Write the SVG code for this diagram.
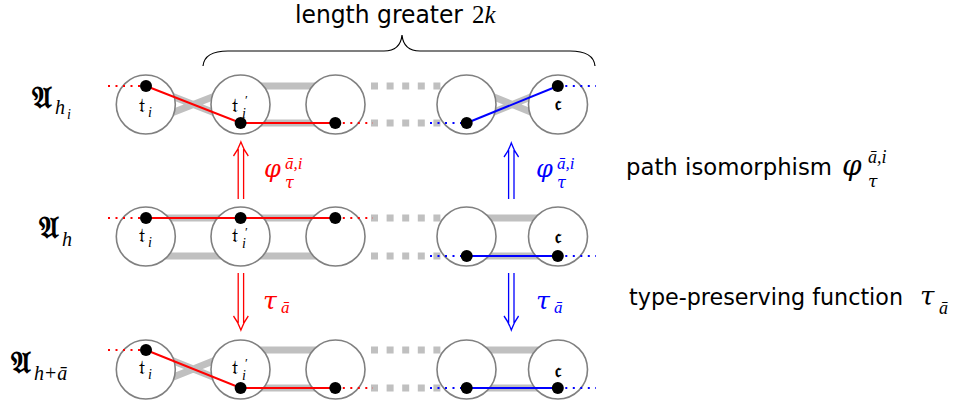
<svg xmlns="http://www.w3.org/2000/svg" width="969" height="405" viewBox="0 0 969 405">
<style>
.band{stroke:#c0c0c0;stroke-width:7;fill:none}
.dash{stroke:#c0c0c0;stroke-width:7;fill:none;stroke-dasharray:7 8.6}
.node{fill:#fff;stroke:#808080;stroke-width:1.6}
.dot{fill:#000}
.red{stroke:#ff0000;stroke-width:2;fill:none}
.blue{stroke:#0000ff;stroke-width:2;fill:none}
.rdot{stroke:#ff0000;stroke-width:2;fill:none;stroke-dasharray:2 5.5}
.bdot{stroke:#0000ff;stroke-width:2;fill:none;stroke-dasharray:2 5.5}
.arr{fill:none;stroke-width:1.3}
.txt{font-family:"DejaVu Sans","Liberation Sans",sans-serif;font-size:24px;fill:#000}
.leg{font-family:"DejaVu Sans","Liberation Sans",sans-serif;font-size:23px;fill:#000}
.frak{font-family:"DejaVu Serif","DejaVu Sans","Noto Sans",serif;fill:#000}
.math{font-family:"Liberation Serif","DejaVu Serif",serif;font-style:italic}
.greek{font-family:"DejaVu Serif","Liberation Serif",serif;font-style:italic}
.rm{font-family:"Liberation Serif","DejaVu Serif",serif;font-style:normal}
</style>

<!-- brace and title -->
<g id="brace">
<path d="M203,66 C204,56 212,51 228,51 L384,51 C396,51 401,45 402,35 C403,45 408,51 420,51 L570,51 C586,51 594,56 595,66" fill="none" stroke="#000" stroke-width="1.2"/>
<text class="txt" x="295" y="23" textLength="168" lengthAdjust="spacingAndGlyphs">length greater</text>
<text x="472" y="23" font-size="25"><tspan class="rm">2</tspan><tspan class="math">k</tspan></text>
</g>

<!-- gray bands (structure edges) -->
<g id="bands">
<path class="band" d="M146,86 L240.6,123 M146,123 L240.6,86 M240.6,86 H335.3 M240.6,123 H335.3 M466.7,86 L557.8,123 M466.7,123 L557.8,86"/>
<path class="dash" d="M371,86 H441 M371,123 H441"/>
<path class="band" d="M146,218 H335.3 M146,256 H335.3 M466.7,218 H557.8 M466.7,256 H557.8"/>
<path class="dash" d="M371,218 H441 M371,256 H441"/>
<path class="band" d="M146,350 L240.6,388 M146,388 L240.6,350 M240.6,350 H335.3 M240.6,388 H335.3 M466.7,350 H557.8 M466.7,388 H557.8"/>
<path class="dash" d="M371,350 H441 M371,388 H441"/>
</g>

<!-- nodes -->
<g id="r1n1"><circle class="node" cx="145.8" cy="104.5" r="29.5"/><text class="frak" x="139" y="112" font-size="20">𝔱<tspan class="math" x="148" y="117" font-size="14">i</tspan></text></g>
<g id="r1n2"><circle class="node" cx="240.5" cy="104.5" r="29.5"/><text class="frak" x="232" y="112" font-size="20">𝔱<tspan class="rm" x="245" y="104" font-size="13">′</tspan><tspan class="math" x="242" y="118" font-size="14">i</tspan></text></g>
<g id="r1n3"><circle class="node" cx="335.5" cy="104.5" r="29.5"/></g>
<g id="r1n4"><circle class="node" cx="466.5" cy="104.5" r="29.5"/></g>
<g id="r1n5"><circle class="node" cx="558" cy="104.5" r="29.5"/><text class="frak" x="558" y="110" font-size="20" text-anchor="middle" font-weight="bold">𝔠</text></g>

<g id="r2n1"><circle class="node" cx="145.8" cy="236.5" r="29.5"/><text class="frak" x="139" y="242" font-size="20">𝔱<tspan class="math" x="148" y="247" font-size="14">i</tspan></text></g>
<g id="r2n2"><circle class="node" cx="240.5" cy="236.5" r="29.5"/><text class="frak" x="232" y="242" font-size="20">𝔱<tspan class="rm" x="245" y="236" font-size="13">′</tspan><tspan class="math" x="242" y="248" font-size="14">i</tspan></text></g>
<g id="r2n3"><circle class="node" cx="335.5" cy="236.5" r="29.5"/></g>
<g id="r2n4"><circle class="node" cx="466.5" cy="236.5" r="29.5"/></g>
<g id="r2n5"><circle class="node" cx="558" cy="236.5" r="29.5"/><text class="frak" x="558" y="243" font-size="20" text-anchor="middle" font-weight="bold">𝔠</text></g>

<g id="r3n1"><circle class="node" cx="145.8" cy="369.5" r="29.5"/><text class="frak" x="139" y="374" font-size="20">𝔱<tspan class="math" x="148" y="379" font-size="14">i</tspan></text></g>
<g id="r3n2"><circle class="node" cx="240.5" cy="369.5" r="29.5"/><text class="frak" x="232" y="374" font-size="20">𝔱<tspan class="rm" x="245" y="367" font-size="13">′</tspan><tspan class="math" x="242" y="380" font-size="14">i</tspan></text></g>
<g id="r3n3"><circle class="node" cx="335.5" cy="369.5" r="29.5"/></g>
<g id="r3n4"><circle class="node" cx="466.5" cy="369.5" r="29.5"/></g>
<g id="r3n5"><circle class="node" cx="558" cy="369.5" r="29.5"/><text class="frak" x="558" y="377" font-size="20" text-anchor="middle" font-weight="bold">𝔠</text></g>

<!-- connectors: paths and arrows -->
<g id="connectors">
<path class="rdot" d="M108,86 H146 M335.3,123 H373"/>
<path class="red" d="M146,86 L240.6,123 H335.3"/>
<path class="bdot" d="M430,123 H466.7 M557.8,86 H596"/>
<path class="blue" d="M466.7,123 L557.8,86"/>
<path class="rdot" d="M108,218 H146 M335.3,218 H373"/>
<path class="red" d="M146,218 H335.3"/>
<path class="bdot" d="M430,256 H466.7 M557.8,256 H596"/>
<path class="blue" d="M466.7,256 H557.8"/>
<path class="rdot" d="M108,350 H146 M335.3,388 H373"/>
<path class="red" d="M146,350 L240.6,388 H335.3"/>
<path class="bdot" d="M430,388 H466.7 M557.8,388 H596"/>
<path class="blue" d="M466.7,388 H557.8"/>
<g class="dot">
<circle cx="146" cy="86" r="6"/><circle cx="240.6" cy="123" r="6"/><circle cx="335.3" cy="123" r="6"/><circle cx="466.7" cy="123" r="6"/><circle cx="557.8" cy="86" r="6"/>
<circle cx="146" cy="218" r="6"/><circle cx="240.6" cy="218" r="6"/><circle cx="335.3" cy="218" r="6"/><circle cx="466.7" cy="256" r="6"/><circle cx="557.8" cy="256" r="6"/>
<circle cx="146" cy="350" r="6"/><circle cx="240.6" cy="388" r="6"/><circle cx="335.3" cy="388" r="6"/><circle cx="466.7" cy="388" r="6"/><circle cx="557.8" cy="388" r="6"/>
</g>
<g class="arr" stroke="#ff0000">
<path d="M238.2,199 V149 M243.6,199 V149 M233.5,156 Q238,150 240.9,142 Q243.8,150 248.3,156"/>
<path d="M238.2,273 V323 M243.6,273 V323 M233.5,316 Q238,322 240.9,330 Q243.8,322 248.3,316"/>
</g>
<g class="arr" stroke="#0000ff">
<path d="M508.6,199 V150 M514,199 V150 M504,157 Q508.5,151 511.3,143 Q514.1,151 518.6,157"/>
<path d="M508.6,273 V323 M514,273 V323 M504,316 Q508.5,322 511.3,330 Q514.1,322 518.6,316"/>
</g>
<g fill="#ff0000">
<text class="greek" x="264" y="177" font-size="24">φ<tspan class="math" x="285" y="169" font-size="17">ā,i</tspan><tspan class="greek" x="285" y="188" font-size="16">τ</tspan></text>
<text class="greek" x="263" y="309" font-size="25">τ<tspan class="math" x="281" y="313" font-size="17">ā</tspan></text>
</g>
<g fill="#0000ff">
<text class="greek" x="536" y="177" font-size="24">φ<tspan class="math" x="557" y="169" font-size="17">ā,i</tspan><tspan class="greek" x="557" y="188" font-size="16">τ</tspan></text>
<text class="greek" x="536" y="309" font-size="25">τ<tspan class="math" x="554" y="313" font-size="17">ā</tspan></text>
</g>
</g>

<!-- row labels -->
<g id="label-hi"><text class="frak" x="32" y="108" font-size="30" font-weight="bold">𝔄<tspan class="math" font-weight="normal" x="55" y="114" font-size="20">h</tspan><tspan class="math" font-weight="normal" x="67" y="119" font-size="14">i</tspan></text></g>
<g id="label-h"><text class="frak" x="39" y="238" font-size="30" font-weight="bold">𝔄<tspan class="math" font-weight="normal" x="62" y="246" font-size="20">h</tspan></text></g>
<g id="label-ha"><text class="frak" x="11" y="373" font-size="30" font-weight="bold">𝔄<tspan class="math" font-weight="normal" x="34" y="380" font-size="20">h</tspan><tspan class="rm" font-weight="normal" dx="1" font-size="20">+</tspan><tspan class="math" font-weight="normal" dx="1" font-size="20">ā</tspan></text></g>

<!-- legend texts -->
<g id="legend1"><text class="leg" x="626" y="175" textLength="206" lengthAdjust="spacingAndGlyphs">path isomorphism</text><text class="greek" x="842" y="175" font-size="28">φ<tspan class="math" x="868" y="163" font-size="18">ā,i</tspan><tspan class="greek" x="868" y="187" font-size="17">τ</tspan></text></g>
<g id="legend2"><text class="leg" x="629" y="305" textLength="274" lengthAdjust="spacingAndGlyphs">type-preserving function</text><text class="greek" x="920" y="305" font-size="26">τ<tspan class="math" x="939" y="314" font-size="18">ā</tspan></text></g>
</svg>
